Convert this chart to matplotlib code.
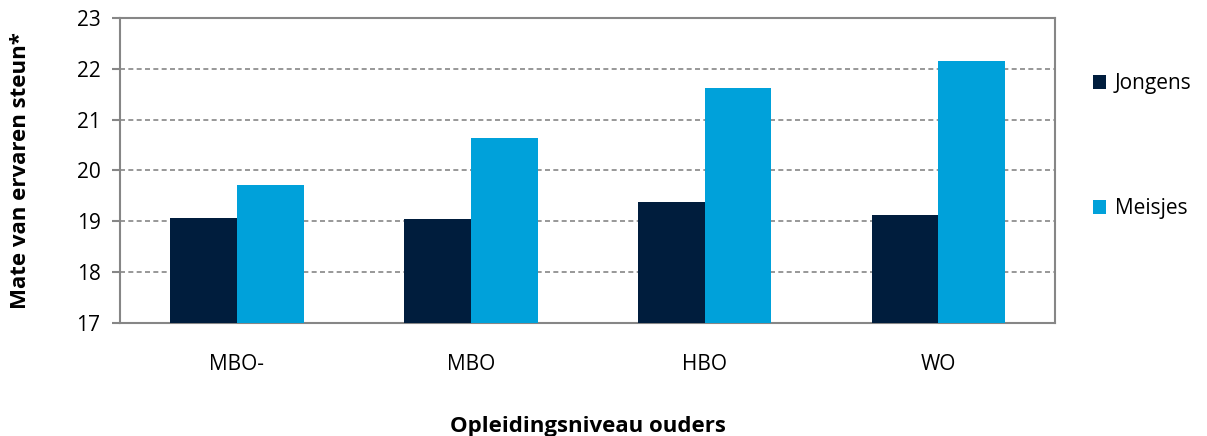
import numpy as np
import matplotlib.pyplot as plt

plt.rcParams['font.family'] = ['Open Sans', 'DejaVu Sans']

# data
categories = ['MBO-', 'MBO', 'HBO', 'WO']
jongens = [19.06, 19.05, 19.38, 19.12]
meisjes = [19.71, 20.64, 21.63, 22.16]

yticks = [17, 18, 19, 20, 21, 22, 23]

fig = plt.figure(figsize=(12.07, 4.36), dpi=100, facecolor='white')
ax = fig.add_axes([0.0994, 0.259, 0.775, 0.700])

x = np.arange(len(categories))
w = 0.2857
grid_col = '#868686'

ax.bar(x - w / 2, jongens, width=w, color='#001D3D', label='Jongens', zorder=3)
ax.bar(x + w / 2, meisjes, width=w, color='#00A1DA', label='Meisjes', zorder=3)

ax.set_xlim(-0.5, len(categories) - 0.5)
ax.set_ylim(17, 23)
ax.set_yticks(yticks)
ax.set_xticks(x)
ax.set_xticklabels(categories)

# gridlines and frame
ax.yaxis.grid(True, linestyle=(0, (3, 2)), color=grid_col, linewidth=1.2, zorder=0)
for s in ax.spines.values():
    s.set_color(grid_col)
    s.set_linewidth(1.5)
ax.tick_params(axis='y', length=6, width=1.5, color=grid_col, labelsize=15, pad=8)
ax.tick_params(axis='x', length=0, labelsize=15, pad=22)

ax.set_xlabel('Opleidingsniveau ouders', fontsize=16, fontweight='bold', labelpad=30)
ax.set_ylabel('Mate van ervaren steun*', fontsize=16, fontweight='bold', labelpad=33)

leg = ax.legend(loc='upper left', bbox_to_anchor=(1.02, 0.88), frameon=False,
                fontsize=15, labelspacing=5.0, handlelength=0.65, handleheight=0.65,
                handletextpad=0.4)

fig.savefig('out.png', dpi=100)
